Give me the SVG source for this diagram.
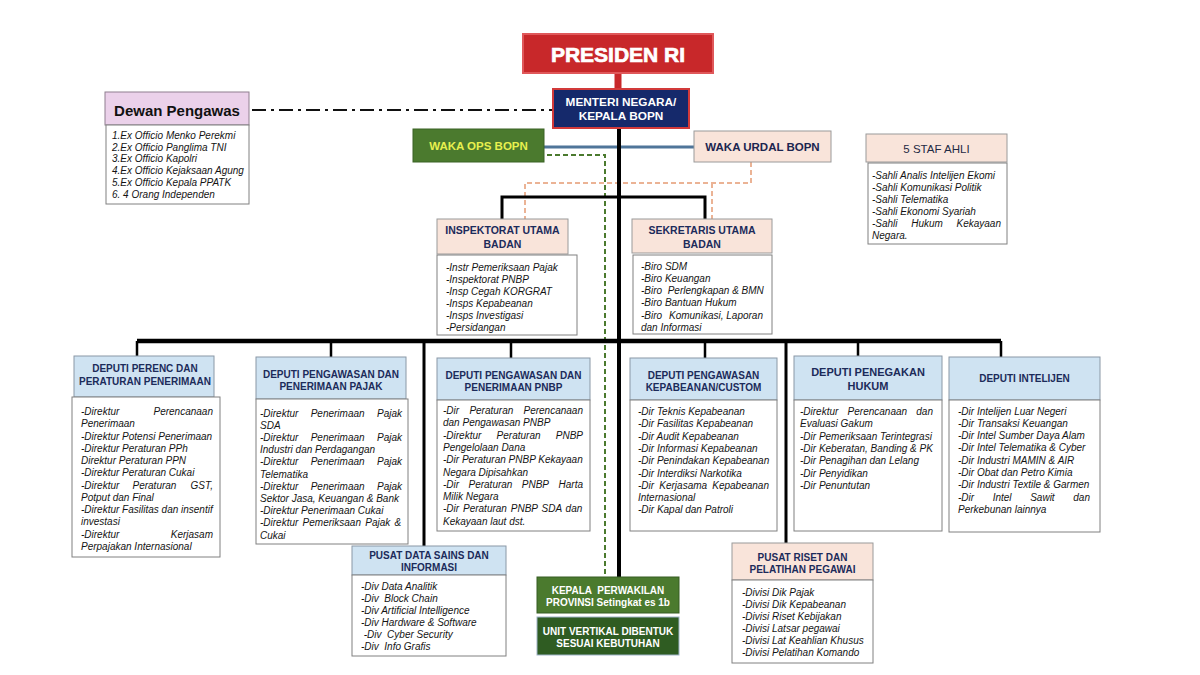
<svg xmlns="http://www.w3.org/2000/svg" width="1200" height="675" viewBox="0 0 1200 675">
<style>
.hb{fill:#cfe3f2;stroke:#8a98a6;stroke-width:1}
.hp{fill:#f9e4da;stroke:#9a9a9a;stroke-width:1}
.bx{fill:#fff;stroke:#808080;stroke-width:1}
.ht{font-family:"Liberation Sans",Arial,sans-serif;font-weight:bold;font-size:10px;fill:#1c2b5a;text-anchor:middle}
.wt{font-family:"Liberation Sans",Arial,sans-serif;font-weight:bold;font-size:10px;fill:#fff;text-anchor:middle}
.bt{font-family:"Liberation Sans",Arial,sans-serif;font-style:italic;font-size:10px;fill:#141414;white-space:pre}
.e{text-anchor:end}
</style>
<rect width="1200" height="675" fill="#fff"/>

<g id="connectors" fill="none">
  <path d="M618,73 V90" stroke="#c8282a" stroke-width="7"/>
  <path d="M252,110 H553" stroke="#111" stroke-width="2" stroke-dasharray="14 5 3 5"/>
  <path d="M544,147 H694" stroke="#4f7599" stroke-width="3"/>
  <path d="M547,155 H605 V577" stroke="#4b7a2e" stroke-width="2" stroke-dasharray="5 3"/>
  <path d="M751,162 V183 H525 V219 M712,183 V219" stroke="#ebb395" stroke-width="2" stroke-dasharray="5 3"/>
  <path d="M619,128 V577" stroke="#000" stroke-width="4"/>
  <path d="M502,219 V197 H705 V219" stroke="#000" stroke-width="3"/>
  <path d="M137,341 H1001" stroke="#000" stroke-width="4.5"/>
  <path d="M137,341 V356 M331,341 V357 M511,341 V358 M705,341 V358 M858,341 V356 M1001,341 V357" stroke="#000" stroke-width="2.5"/>
  <path d="M424,341 V546 M786,341 V543" stroke="#000" stroke-width="3"/>
</g>

<g id="presiden">
  <rect x="523" y="34" width="190" height="39" fill="#c8282a" stroke="#e0585a" stroke-width="2"/>
  <text x="618" y="61.5" font-family="Liberation Sans, Arial, sans-serif" font-weight="bold" font-size="21" fill="#fff" stroke="#fff" stroke-width="0.7" text-anchor="middle">PRESIDEN RI</text>
</g>

<g id="menteri">
  <rect x="553" y="89" width="136" height="39" fill="#15296b" stroke="#d23a3a" stroke-width="2"/>
  <text class="wt" x="621" y="106" style="font-size:11.8px">MENTERI NEGARA/</text>
  <text class="wt" x="621" y="120" style="font-size:11.8px">KEPALA BOPN</text>
</g>

<g id="waka-ops">
  <rect x="413" y="129" width="131" height="33" fill="#4b7a2e" stroke="#3b6324"/>
  <text class="ht" x="478.5" y="149.5" style="fill:#e8f04e;font-size:11.5px">WAKA OPS BOPN</text>
</g>

<g id="waka-urdal">
  <rect class="hp" x="694" y="131" width="137" height="31"/>
  <text class="ht" x="762.5" y="151" style="font-size:11.5px;fill:#1c2650">WAKA URDAL BOPN</text>
</g>

<g id="dewan-pengawas">
  <rect x="105" y="92" width="144" height="33" fill="#ebd1ea" stroke="#8f7f8f"/>
  <text x="177" y="115.5" font-family="Liberation Sans, Arial, sans-serif" font-weight="bold" font-size="15" fill="#111" text-anchor="middle">Dewan Pengawas</text>
  <rect class="bx" x="106" y="125" width="143" height="79"/>
  <text class="bt" x="112" y="139">1.Ex Officio Menko Perekmi</text>
  <text class="bt" x="112" y="150.7">2.Ex Officio Panglima TNI</text>
  <text class="bt" x="112" y="162.4">3.Ex Officio Kapolri</text>
  <text class="bt" x="112" y="174.1">4.Ex Officio Kejaksaan Agung</text>
  <text class="bt" x="112" y="185.8">5.Ex Officio Kepala PPATK</text>
  <text class="bt" x="112" y="197.5">6. 4 Orang Independen</text>
</g>

<g id="staf-ahli">
  <rect class="hp" x="866" y="134" width="141" height="28"/>
  <text x="936.5" y="153" font-family="Liberation Sans, Arial, sans-serif" font-size="11.5" fill="#1f2a44" text-anchor="middle">5 STAF AHLI</text>
  <rect class="bx" x="868" y="163" width="139" height="81"/>
  <text class="bt" x="872" y="178.5">-Sahli Analis Intelijen Ekomi</text>
  <text class="bt" x="872" y="190.5">-Sahli Komunikasi Politik</text>
  <text class="bt" x="872" y="202.5">-Sahli Telematika</text>
  <text class="bt" x="872" y="214.5">-Sahli Ekonomi Syariah</text>
  <text class="bt" y="226.5"><tspan x="872">-Sahli</tspan><tspan x="911.2">Hukum</tspan></text>
  <text class="bt e" x="1001" y="226.5">Kekayaan</text>
  <text class="bt" x="872" y="238.5">Negara.</text>
</g>

<g id="inspektorat">
  <rect class="hp" x="437" y="219" width="131" height="35"/>
  <text class="ht" x="502.5" y="234" style="font-size:10.5px">INSPEKTORAT UTAMA</text>
  <text class="ht" x="502.5" y="248" style="font-size:10.5px">BADAN</text>
  <rect class="bx" x="437" y="255" width="140" height="80"/>
  <text class="bt" x="446" y="270.5">-Instr Pemeriksaan Pajak</text>
  <text class="bt" x="446" y="282.6">-Inspektorat PNBP</text>
  <text class="bt" x="446" y="294.7">-Insp Cegah KORGRAT</text>
  <text class="bt" x="446" y="306.8">-Insps Kepabeanan</text>
  <text class="bt" x="446" y="318.9">-Insps Investigasi</text>
  <text class="bt" x="446" y="331">-Persidangan</text>
</g>

<g id="sekretaris">
  <rect class="hp" x="632" y="219" width="140" height="34"/>
  <text class="ht" x="702" y="234" style="font-size:10.5px">SEKRETARIS UTAMA</text>
  <text class="ht" x="702" y="248" style="font-size:10.5px">BADAN</text>
  <rect class="bx" x="633" y="255" width="139" height="79"/>
  <text class="bt" x="641" y="269.5">-Biro SDM</text>
  <text class="bt" x="641" y="281.8">-Biro Keuangan</text>
  <text class="bt" x="641" y="294.1">-Biro  Perlengkapan &amp; BMN</text>
  <text class="bt" x="641" y="306.4">-Biro Bantuan Hukum</text>
  <text class="bt" y="318.7"><tspan x="641">-Biro</tspan><tspan x="669">Komunikasi,</tspan></text>
  <text class="bt e" x="763" y="318.7">Laporan</text>
  <text class="bt" x="641" y="331">dan Informasi</text>
</g>

<g id="deputi-perenc">
  <rect class="hb" x="74" y="356" width="140" height="41"/>
  <text class="ht" x="145" y="371.5">DEPUTI PERENC DAN</text>
  <text class="ht" x="145" y="384.5">PERATURAN PENERIMAAN</text>
  <rect class="bx" x="72" y="397" width="148" height="160"/>
  <text class="bt" x="81" y="415">-Direktur</text>
  <text class="bt e" x="213" y="415">Perencanaan</text>
  <text class="bt" x="81" y="427.3">Penerimaan</text>
  <text class="bt" x="81" y="439.5">-Direktur Potensi Penerimaan</text>
  <text class="bt" x="81" y="451.8">-Direktur Peraturan PPh</text>
  <text class="bt" x="81" y="464.1">Direktur Peraturan PPN</text>
  <text class="bt" x="81" y="476.4">-Direktur Peraturan Cukai</text>
  <text class="bt" y="488.6"><tspan x="81">-Direktur</tspan><tspan x="132.5">Peraturan</tspan></text>
  <text class="bt e" x="213" y="488.6">GST,</text>
  <text class="bt" x="81" y="500.9">Potput dan Final</text>
  <text class="bt" x="81" y="513.2">-Direktur Fasilitas dan insentif</text>
  <text class="bt" x="81" y="525.4">investasi</text>
  <text class="bt" x="81" y="537.7">-Direktur</text>
  <text class="bt e" x="213" y="537.7">Kerjasam</text>
  <text class="bt" x="81" y="550">Perpajakan Internasional</text>
</g>

<g id="deputi-pajak">
  <rect class="hb" x="256" y="357" width="150" height="42"/>
  <text class="ht" x="331" y="377.5">DEPUTI PENGAWASAN DAN</text>
  <text class="ht" x="331" y="390">PENERIMAAN PAJAK</text>
  <rect class="bx" x="256" y="399" width="152" height="145"/>
  <text class="bt" y="416.5"><tspan x="260">-Direktur</tspan><tspan x="310.7">Penerimaan</tspan></text>
  <text class="bt e" x="402" y="416.5">Pajak</text>
  <text class="bt" x="260" y="428.7">SDA</text>
  <text class="bt" y="440.9"><tspan x="260">-Direktur</tspan><tspan x="310.7">Penerimaan</tspan></text>
  <text class="bt e" x="402" y="440.9">Pajak</text>
  <text class="bt" x="260" y="453.1">Industri dan Perdagangan</text>
  <text class="bt" y="465.3"><tspan x="260">-Direktur</tspan><tspan x="310.7">Penerimaan</tspan></text>
  <text class="bt e" x="402" y="465.3">Pajak</text>
  <text class="bt" x="260" y="477.5">Telematika</text>
  <text class="bt" y="489.7"><tspan x="260">-Direktur</tspan><tspan x="310.7">Penerimaan</tspan></text>
  <text class="bt e" x="402" y="489.7">Pajak</text>
  <text class="bt" x="260" y="501.9">Sektor Jasa, Keuangan &amp; Bank</text>
  <text class="bt" x="260" y="514.1">-Direktur Penerimaan Cukai</text>
  <text class="bt" x="260" y="526.3" word-spacing="1.5">-Direktur Pemeriksaan Pajak &amp;</text>
  <text class="bt" x="260" y="538.5">Cukai</text>
</g>

<g id="deputi-pnbp">
  <rect class="hb" x="437" y="358" width="153" height="42"/>
  <text class="ht" x="513.5" y="378.5">DEPUTI PENGAWASAN DAN</text>
  <text class="ht" x="513.5" y="391">PENERIMAAN PNBP</text>
  <rect class="bx" x="437" y="400" width="153" height="131"/>
  <text class="bt" y="414"><tspan x="443">-Dir</tspan><tspan x="469.4">Peraturan</tspan></text>
  <text class="bt e" x="583" y="414">Perencanaan</text>
  <text class="bt" x="443" y="426.3">dan Pengawasan PNBP</text>
  <text class="bt" y="438.6"><tspan x="443">-Direktur</tspan><tspan x="496.6">Peraturan</tspan></text>
  <text class="bt e" x="583" y="438.6">PNBP</text>
  <text class="bt" x="443" y="450.9">Pengelolaan Dana</text>
  <text class="bt" x="443" y="463.2">-Dir Peraturan PNBP Kekayaan</text>
  <text class="bt" x="443" y="475.5">Negara Dipisahkan</text>
  <text class="bt" y="487.8"><tspan x="443">-Dir</tspan><tspan x="468.5">Peraturan</tspan><tspan x="521.8">PNBP</tspan></text>
  <text class="bt e" x="583" y="487.8">Harta</text>
  <text class="bt" x="443" y="500.1">Milik Negara</text>
  <text class="bt" x="443" y="512.4" word-spacing="1.1">-Dir Peraturan PNBP SDA dan</text>
  <text class="bt" x="443" y="524.7">Kekayaan laut dst.</text>
</g>

<g id="deputi-kepabeanan">
  <rect class="hb" x="630" y="358" width="147" height="42"/>
  <text class="ht" x="703.5" y="378.5">DEPUTI PENGAWASAN</text>
  <text class="ht" x="703.5" y="391">KEPABEANAN/CUSTOM</text>
  <rect class="bx" x="630" y="400" width="147" height="131"/>
  <text class="bt" x="638" y="415">-Dir Teknis Kepabeanan</text>
  <text class="bt" x="638" y="427.3">-Dir Fasilitas Kepabeanan</text>
  <text class="bt" x="638" y="439.6">-Dir Audit Kepabeanan</text>
  <text class="bt" x="638" y="451.9">-Dir Informasi Kepabeanan</text>
  <text class="bt" x="638" y="464.2">-Dir Penindakan Kepabeanan</text>
  <text class="bt" x="638" y="476.5">-Dir Interdiksi Narkotika</text>
  <text class="bt" y="488.8"><tspan x="638">-Dir</tspan><tspan x="659.3">Kerjasama</tspan></text>
  <text class="bt e" x="769" y="488.8">Kepabeanan</text>
  <text class="bt" x="638" y="501.1">Internasional</text>
  <text class="bt" x="638" y="513.4">-Dir Kapal dan Patroli</text>
</g>

<g id="deputi-hukum">
  <rect class="hb" x="794" y="356" width="148" height="44"/>
  <text class="ht" x="868" y="375.5" style="font-size:11px">DEPUTI PENEGAKAN</text>
  <text class="ht" x="868" y="389.5" style="font-size:11px">HUKUM</text>
  <rect class="bx" x="794" y="400" width="148" height="131"/>
  <text class="bt" y="415"><tspan x="800">-Direktur</tspan><tspan x="847.6">Perencanaan</tspan></text>
  <text class="bt e" x="933" y="415">dan</text>
  <text class="bt" x="800" y="427.3">Evaluasi Gakum</text>
  <text class="bt" x="800" y="439.6">-Dir Pemeriksaan Terintegrasi</text>
  <text class="bt" x="800" y="451.9">-Dir Keberatan, Banding &amp; PK</text>
  <text class="bt" x="800" y="464.2">-Dir Penagihan dan Lelang</text>
  <text class="bt" x="800" y="476.5">-Dir Penyidikan</text>
  <text class="bt" x="800" y="488.8">-Dir Penuntutan</text>
</g>

<g id="deputi-intelijen">
  <rect class="hb" x="949" y="357" width="151" height="43"/>
  <text class="ht" x="1024.5" y="382">DEPUTI INTELIJEN</text>
  <rect class="bx" x="949" y="400" width="151" height="132"/>
  <text class="bt" x="958" y="414.5">-Dir Intelijen Luar Negeri</text>
  <text class="bt" x="958" y="426.8">-Dir Transaksi Keuangan</text>
  <text class="bt" x="958" y="439.1">-Dir Intel Sumber Daya Alam</text>
  <text class="bt" x="958" y="451.4">-Dir Intel Telematika &amp; Cyber</text>
  <text class="bt" x="958" y="463.7">-Dir Industri MAMIN &amp; AIR</text>
  <text class="bt" x="958" y="476">-Dir Obat dan Petro Kimia</text>
  <text class="bt" x="958" y="488.3">-Dir Industri Textile &amp; Garmen</text>
  <text class="bt" y="500.6"><tspan x="958">-Dir</tspan><tspan x="992.7">Intel</tspan><tspan x="1030.2">Sawit</tspan></text>
  <text class="bt e" x="1090" y="500.6">dan</text>
  <text class="bt" x="958" y="512.9">Perkebunan lainnya</text>
</g>

<g id="pusat-data">
  <rect class="hb" x="352" y="546" width="154" height="29"/>
  <text class="ht" x="429" y="559">PUSAT DATA SAINS DAN</text>
  <text class="ht" x="429" y="571">INFORMASI</text>
  <rect class="bx" x="352" y="575" width="154" height="81"/>
  <text class="bt" x="361" y="589.5">-Div Data Analitik</text>
  <text class="bt" x="361" y="601.6">-Div  Block Chain</text>
  <text class="bt" x="361" y="613.7">-Div Artificial Intelligence</text>
  <text class="bt" x="361" y="625.8">-Div Hardware &amp; Software</text>
  <text class="bt" x="361" y="637.9"> -Div  Cyber Security</text>
  <text class="bt" x="361" y="650">-Div  Info Grafis</text>
</g>

<g id="kepala-perwakilan">
  <rect x="537" y="577" width="142" height="36" fill="#4b7a2e" stroke="#365c22"/>
  <text class="wt" x="608" y="594" style="white-space:pre">KEPALA  PERWAKILAN</text>
  <text class="wt" x="608" y="606">PROVINSI Setingkat es 1b</text>
</g>

<g id="unit-vertikal">
  <rect x="537" y="617" width="142" height="38" fill="#2f5c22" stroke="#9fb3c8"/>
  <text class="wt" x="608" y="635">UNIT VERTIKAL DIBENTUK</text>
  <text class="wt" x="608" y="646.5">SESUAI KEBUTUHAN</text>
</g>

<g id="pusat-riset">
  <rect class="hp" x="732" y="543" width="141" height="37"/>
  <text class="ht" x="802.5" y="561">PUSAT RISET DAN</text>
  <text class="ht" x="802.5" y="573">PELATIHAN PEGAWAI</text>
  <rect class="bx" x="732" y="580" width="141" height="83"/>
  <text class="bt" x="742" y="595.5">-Divisi Dik Pajak</text>
  <text class="bt" x="742" y="607.5">-Divisi Dik Kepabeanan</text>
  <text class="bt" x="742" y="619.5">-Divisi Riset Kebijakan</text>
  <text class="bt" x="742" y="631.5">-Divisi Latsar pegawai</text>
  <text class="bt" x="742" y="643.5">-Divisi Lat Keahlian Khusus</text>
  <text class="bt" x="742" y="655.5">-Divisi Pelatihan Komando</text>
</g>
</svg>
